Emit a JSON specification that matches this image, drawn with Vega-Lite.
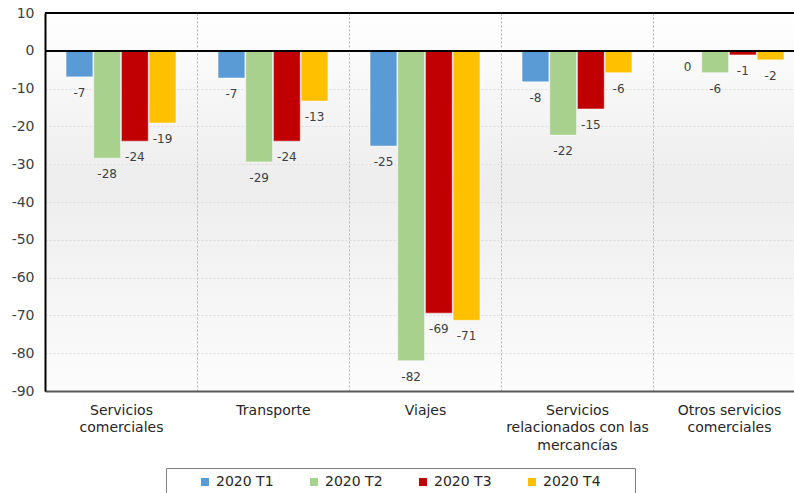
{
  "$schema": "https://vega.github.io/schema/vega-lite/v6.json",
  "width": 760,
  "height": 378,
  "autosize": {"type": "none"},
  "padding": {"left": 45, "top": 13, "right": 0, "bottom": 102},
  "view": {
    "stroke": "#000000",
    "strokeWidth": 1,
    "fill": {"gradient": "linear", "x1": 0, "y1": 0, "x2": 0, "y2": 1,
      "stops": [{"offset": 0, "color": "#ffffff"}, {"offset": 0.45, "color": "#ededed"}, {"offset": 1, "color": "#fcfcfc"}]}
  },
  "config": {
    "font": "DejaVu Sans",
    "locale": {"number": {"decimal": ".", "thousands": ",", "grouping": [3], "currency": ["", ""], "minus": "-"}}
  },
  "data": {
    "values": [
      {"cat": "Servicios comerciales", "q": "2020 T1", "v": -6.9},
      {"cat": "Servicios comerciales", "q": "2020 T2", "v": -28.4},
      {"cat": "Servicios comerciales", "q": "2020 T3", "v": -23.9},
      {"cat": "Servicios comerciales", "q": "2020 T4", "v": -19.1},
      {"cat": "Transporte", "q": "2020 T1", "v": -7.2},
      {"cat": "Transporte", "q": "2020 T2", "v": -29.4},
      {"cat": "Transporte", "q": "2020 T3", "v": -23.9},
      {"cat": "Transporte", "q": "2020 T4", "v": -13.3},
      {"cat": "Viajes", "q": "2020 T1", "v": -25.2},
      {"cat": "Viajes", "q": "2020 T2", "v": -82.0},
      {"cat": "Viajes", "q": "2020 T3", "v": -69.4},
      {"cat": "Viajes", "q": "2020 T4", "v": -71.3},
      {"cat": "Servicios relacionados con las mercancías", "q": "2020 T1", "v": -8.2},
      {"cat": "Servicios relacionados con las mercancías", "q": "2020 T2", "v": -22.3},
      {"cat": "Servicios relacionados con las mercancías", "q": "2020 T3", "v": -15.4},
      {"cat": "Servicios relacionados con las mercancías", "q": "2020 T4", "v": -5.8},
      {"cat": "Otros servicios comerciales", "q": "2020 T1", "v": 0.0},
      {"cat": "Otros servicios comerciales", "q": "2020 T2", "v": -5.8},
      {"cat": "Otros servicios comerciales", "q": "2020 T3", "v": -1.1},
      {"cat": "Otros servicios comerciales", "q": "2020 T4", "v": -2.4}
    ]
  },
  "encoding": {
    "x": {
      "field": "cat", "type": "nominal",
      "sort": ["Servicios comerciales", "Transporte", "Viajes", "Servicios relacionados con las mercancías", "Otros servicios comerciales"],
      "scale": {"paddingInner": 0, "paddingOuter": 0},
      "axis": {
        "title": null, "labelAngle": 0, "ticks": false, "tickBand": "extent",
        "grid": true, "gridColor": "#b5b5b5", "gridDash": [2, 2], "gridWidth": 1,
        "domainColor": "#595959", "domainWidth": 2,
        "labelFontSize": 14, "labelColor": "#262626", "labelPadding": 12, "labelLineHeight": 17.5,
        "labelLimit": 0, "labelBaseline": "top",
        "labelExpr": "datum.value == 'Servicios comerciales' ? ['Servicios', 'comerciales'] : datum.value == 'Servicios relacionados con las mercancías' ? ['Servicios', 'relacionados con las', 'mercancías'] : datum.value == 'Otros servicios comerciales' ? ['Otros servicios', 'comerciales'] : datum.value"
      }
    },
    "xOffset": {
      "field": "q", "type": "nominal",
      "scale": {"paddingInner": 0.03, "paddingOuter": 0.76}
    },
    "y": {
      "field": "v", "type": "quantitative",
      "scale": {"domain": [-90, 10], "nice": false, "zero": false},
      "axis": {
        "title": null, "values": [-90, -80, -70, -60, -50, -40, -30, -20, -10, 0, 10],
        "ticks": false, "labelPadding": 11, "labelFontSize": 14, "labelColor": "#404040",
        "domainColor": "#000000", "domainWidth": 2,
        "grid": true, "gridColor": "#dcdcdc", "gridDash": [2, 2], "gridWidth": 1
      }
    }
  },
  "layer": [
    {
      "mark": {"type": "bar", "stroke": "#ffffff", "strokeWidth": 0.5},
      "encoding": {
        "color": {
          "field": "q", "type": "nominal",
          "scale": {"domain": ["2020 T1", "2020 T2", "2020 T3", "2020 T4"], "range": ["#5b9bd5", "#a9d18e", "#c00000", "#ffc000"]},
          "legend": {
            "title": "\u200b\u00a0\u00a0\u00a0\u00a0\u200b", "titleOrient": "left", "titlePadding": 5, "titleFontSize": 14,
            "orient": "none", "direction": "horizontal",
            "legendX": 121, "legendY": 455, "gridAlign": "none",
            "symbolType": "square", "symbolSize": 64, "symbolStrokeWidth": 0,
            "labelFontSize": 14, "labelColor": "#262626", "labelOffset": 4,
            "columnPadding": 33, "padding": 7,
            "labelExpr": "datum.label == '2020 T4' ? datum.label + '\u00a0\u00a0\u00a0\u00a0\u00a0\u00a0\u200b' : datum.label",
            "strokeColor": "#7f7f7f",
            "encode": {"legend": {"update": {"strokeWidth": {"value": 2}}}}
          }
        }
      }
    },
    {
      "mark": {"type": "text", "baseline": "middle", "align": "center", "dy": 16, "fontSize": 12, "color": "#404040"},
      "encoding": {
        "text": {"field": "v", "type": "quantitative", "format": ".0f"}
      }
    },
    {
      "mark": {"type": "rule", "color": "#000000", "strokeWidth": 1.5},
      "encoding": {"y": {"datum": 0}, "x": null, "xOffset": null}
    },
    {
      "mark": {"type": "rule", "color": "#000000", "strokeWidth": 1},
      "encoding": {"y": {"datum": 10}, "x": null, "xOffset": null}
    }
  ]
}
